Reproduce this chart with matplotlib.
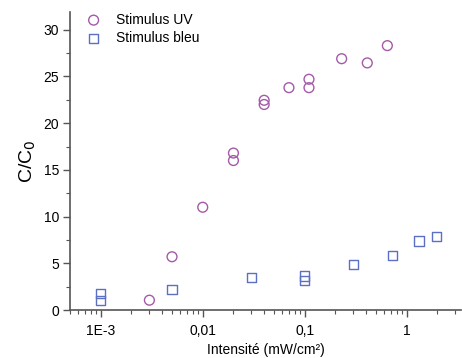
import matplotlib
matplotlib.use("Agg")
import matplotlib.pyplot as plt
from matplotlib.ticker import FixedLocator, LogLocator, NullFormatter, FixedFormatter

plt.rcParams['font.family'] = ['Liberation Sans', 'DejaVu Sans']

uv_x = [0.003, 0.005, 0.01, 0.02, 0.02, 0.04, 0.04, 0.07, 0.11, 0.11, 0.23, 0.41, 0.645]
uv_y = [1.05, 5.7, 11.0, 16.8, 16.0, 22.45, 22.0, 23.8, 24.7, 23.8, 26.9, 26.45, 28.3]

bleu_x = [0.001, 0.001, 0.005, 0.03, 0.1, 0.1, 0.3, 0.72, 1.32, 1.97]
bleu_y = [1.0, 1.75, 2.2, 3.5, 3.65, 3.15, 4.9, 5.8, 7.4, 7.9]

xtick_vals = [0.001, 0.01, 0.1, 1]
xtick_labels = ['1E-3', '0,01', '0,1', '1']
ytick_vals = [0, 5, 10, 15, 20, 25, 30]

uv_color = '#a45aa8'
bleu_color = '#5b70c4'
axis_color = '#555555'

fig = plt.figure(figsize=(4.62, 3.58), dpi=100)
ax = fig.add_axes([70/462, 48/358, 391/462, 298/358])

ax.scatter(uv_x, uv_y, marker='o', s=50, facecolors='none', edgecolors=uv_color,
           linewidths=1.0, label='Stimulus UV', zorder=3)
ax.scatter(bleu_x, bleu_y, marker='s', s=45, facecolors='none', edgecolors=bleu_color,
           linewidths=1.0, label='Stimulus bleu', zorder=3)

ax.set_xscale('log')
ax.set_xlim(5e-4, 3.4)
ax.set_ylim(0, 31.9)

ax.xaxis.set_major_locator(FixedLocator(xtick_vals))
ax.xaxis.set_major_formatter(FixedFormatter(xtick_labels))
ax.xaxis.set_minor_locator(LogLocator(base=10, subs=range(2, 10)))
ax.xaxis.set_minor_formatter(NullFormatter())

ax.yaxis.set_major_locator(FixedLocator(ytick_vals))
ax.yaxis.set_minor_locator(FixedLocator([2.5 + 5*i for i in range(7)]))

for s in ['top', 'right']:
    ax.spines[s].set_visible(False)
for s in ['left', 'bottom']:
    ax.spines[s].set_color(axis_color)
    ax.spines[s].set_linewidth(1.2)

ax.tick_params(which='major', direction='out', length=5, width=1.0, color=axis_color,
               labelsize=10, labelcolor='black', pad=3)
ax.tick_params(which='minor', direction='out', length=3, width=0.8, color=axis_color)
ax.tick_params(axis='x', which='major', pad=5)

ax.set_xlabel('Intensité (mW/cm²)', fontsize=10, labelpad=4)
ax.set_ylabel('C/C$_0$', fontsize=14, labelpad=4)

leg = ax.legend(loc='upper left', bbox_to_anchor=(0.0, 1.03), frameon=False, fontsize=10,
                handletextpad=0.6, borderaxespad=0.3, labelspacing=0.3)

fig.savefig('out.png', dpi=100)
